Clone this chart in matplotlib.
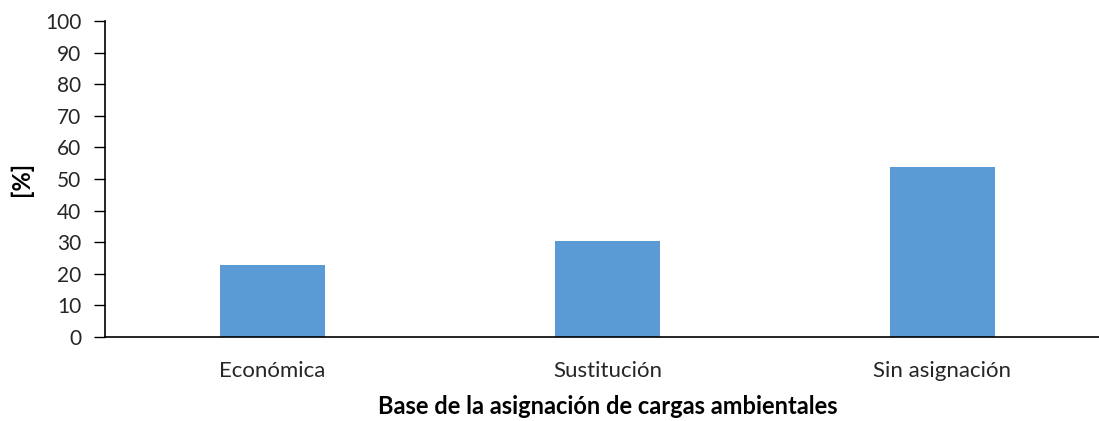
import matplotlib.pyplot as plt
import numpy as np

categorias = ['Económica', 'Sustitución', 'Sin asignación']
porcentajes = [22.8, 30.4, 53.7]
yticks = list(range(0, 101, 10))

plt.rcParams['font.family'] = ['Lato', 'DejaVu Sans']

fig = plt.figure(figsize=(10.99, 4.21), dpi=100)
ax = fig.add_axes([0.0955, 0.1995, 0.9145, 0.7506])

x = np.arange(len(categorias))
ax.bar(x, porcentajes, width=0.312, color='#5B9BD5', zorder=2)

ax.set_xlim(-0.5, len(categorias) - 0.5)
ax.set_ylim(0, 100)
ax.set_yticks(yticks)
ax.set_xticks(x)
ax.set_xticklabels(categorias, fontsize=16, color='#262626')
ax.tick_params(axis='y', length=8, width=1, labelsize=15, labelcolor='#262626', pad=9)
ax.tick_params(axis='x', length=0, pad=17)

for s in ['top', 'right']:
    ax.spines[s].set_visible(False)
for s in ['left', 'bottom']:
    ax.spines[s].set_linewidth(1.2)
    ax.spines[s].set_color('black')

ax.set_ylabel('[%]', fontsize=17, fontweight='bold')
ax.yaxis.set_label_coords(-0.072, 0.5)
ax.set_xlabel('Base de la asignación de cargas ambientales', fontsize=17,
              fontweight='bold')
ax.xaxis.set_label_coords(0.5, -0.185)

fig.savefig('out.png', dpi=100)
